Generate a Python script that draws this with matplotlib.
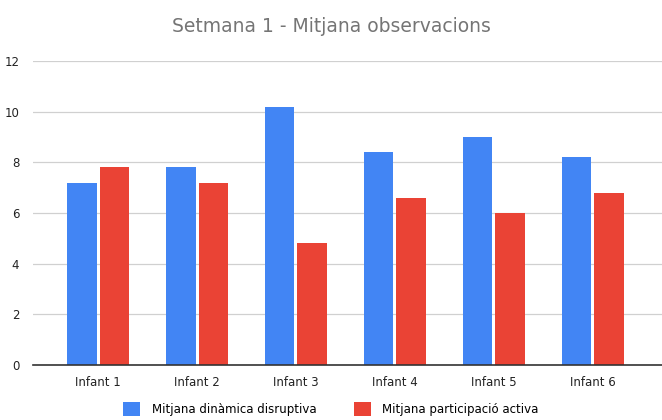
import numpy as np
import matplotlib.pyplot as plt

# data
infants = ['Infant 1', 'Infant 2', 'Infant 3', 'Infant 4', 'Infant 5', 'Infant 6']
disruptiva = [7.2, 7.8, 10.2, 8.4, 9.0, 8.2]
participacio = [7.8, 7.2, 4.8, 6.6, 6.0, 6.8]
yticks = [0, 2, 4, 6, 8, 10, 12]

fig = plt.figure(figsize=(6.62, 4.2), dpi=100)
ax = fig.add_axes([0.05, 0.131, 0.95, 0.724])

x = np.arange(len(infants))
w = 0.30
ax.bar(x - 0.165, disruptiva, w, color='#4285F4', label='Mitjana dinàmica disruptiva', zorder=3)
ax.bar(x + 0.165, participacio, w, color='#EA4335', label='Mitjana participació activa', zorder=3)

ax.set_xlim(-0.657, 5.70)
ax.set_ylim(0, 12)
ax.set_yticks(yticks)
ax.set_xticks(x)
ax.set_xticklabels(infants)
ax.grid(axis='y', color='#d0d0d0', linewidth=0.9, zorder=0)
for s in ['top', 'right', 'left']:
    ax.spines[s].set_visible(False)
ax.spines['bottom'].set_color('#333333')
ax.spines['bottom'].set_linewidth(1.2)
ax.spines['bottom'].set_zorder(4)
ax.tick_params(axis='both', length=0, labelsize=8.5, colors='#222222')
ax.tick_params(axis='y', pad=10)
ax.tick_params(axis='x', pad=8)

fig.suptitle('Setmana 1 - Mitjana observacions', y=0.96, fontsize=13.5, color='#757575')
fig.legend(loc='lower center', bbox_to_anchor=(0.5, -0.015), ncol=2, frameon=False,
           fontsize=8.5, handlelength=1.4, handleheight=1.4, handletextpad=1.0,
           columnspacing=3.2)

fig.savefig('out.png', dpi=100)
